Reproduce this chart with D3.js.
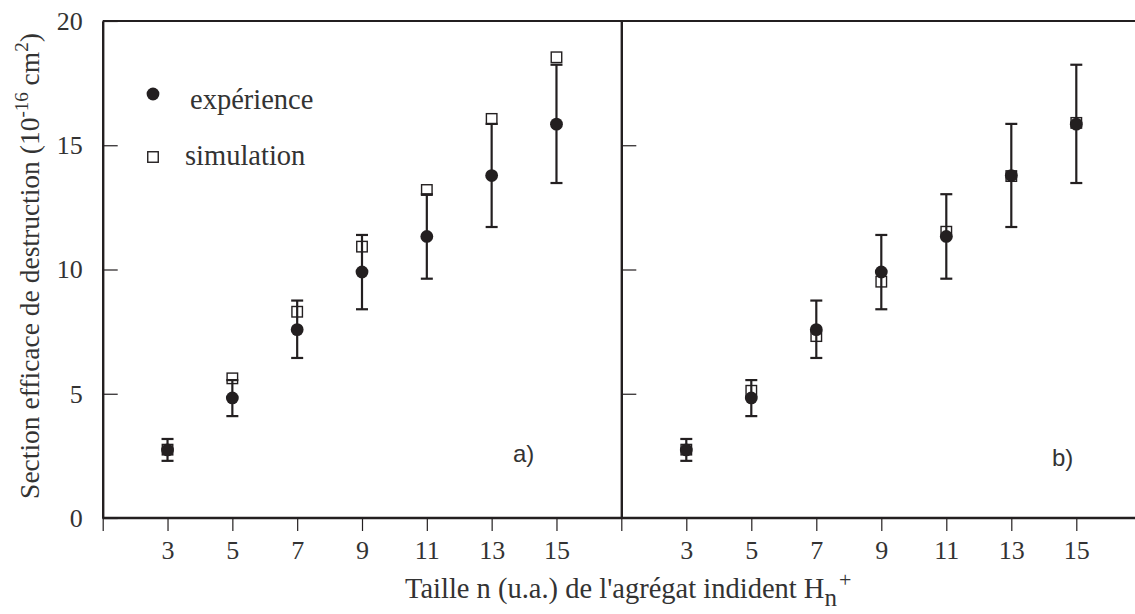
<!DOCTYPE html>
<html><head><meta charset="utf-8">
<script src="https://cdn.jsdelivr.net/npm/d3@7"></script>
<style>body{margin:0;background:#fff}svg{display:block}
.serif{font-family:"Liberation Serif","Times New Roman",Tinos,"DejaVu Serif",serif}
.sans{font-family:"Liberation Sans",Arial,sans-serif}
</style>
</head><body>
<svg id="chart" width="1135" height="614"></svg>
<script>
// ---- data ----
const sizes = [3, 5, 7, 9, 11, 13, 15];
const expValues = [2.74, 4.83, 7.58, 9.90, 11.33, 13.78, 15.85];
const errLow   = [2.30, 4.10, 6.44, 8.40, 9.63, 11.71, 13.48];
const errHigh  = [3.18, 5.55, 8.75, 11.39, 13.03, 15.86, 18.24];
const simA = [2.75, 5.62, 8.30, 10.92, 13.20, 16.06, 18.54];
const simB = [2.75, 5.12, 7.32, 9.51, 11.52, 13.76, 15.90];
const yTicks = [0, 5, 10, 15, 20];
const xTickLabels = [3, 5, 7, 9, 11, 13, 15];
const panelLabels = ["a)", "b)"];
const legendLabels = ["expérience", "simulation"];

// ---- layout ----
const svg = d3.select("#chart");
const ink = "#231f20", textInk = "#333";
const yTop = 21, yBottom = 518;
const y = d3.scaleLinear().domain([0, 20]).range([yBottom, yTop]);
const xA = d3.scaleLinear().domain([1, 17]).range([102.7, 621.3]);
const xB = d3.scaleLinear().domain([1, 17]).range([621.3, 1141.3]);

// frame lines
svg.append("line").attr("x1", 102.7).attr("x2", 1135).attr("y1", yTop).attr("y2", yTop)
  .attr("stroke", ink).attr("stroke-width", 2);
svg.append("line").attr("x1", 102.7).attr("x2", 1135).attr("y1", yBottom).attr("y2", yBottom)
  .attr("stroke", ink).attr("stroke-width", 2.4);

// y axis (left)
const yAxisL = d3.axisLeft(y).tickValues(yTicks).tickSizeInner(-15).tickSizeOuter(0).tickPadding(20);
const gyL = svg.append("g").attr("transform", "translate(102.7,0)").call(yAxisL);
gyL.attr("font-family", null).attr("font-size", null);
gyL.select(".domain").attr("stroke", ink).attr("stroke-width", 2.4);
gyL.selectAll(".tick line").attr("stroke", ink).attr("stroke-width", 1.2);
gyL.selectAll(".tick text").attr("class", "serif").style("font-size", "26px").attr("fill", textInk);

// divider with inward ticks
const yAxisR = d3.axisRight(y).tickValues([5, 10, 15]).tickSizeInner(15).tickSizeOuter(0).tickFormat("");
const gyR = svg.append("g").attr("transform", "translate(621.3,0)").call(yAxisR);
gyR.select(".domain").attr("stroke", ink).attr("stroke-width", 2.4);
gyR.selectAll(".tick line").attr("stroke", ink).attr("stroke-width", 1.2);

// x axes
function xAxis(scale) {
  return d3.axisBottom(scale).tickValues([1].concat(xTickLabels)).tickSizeInner(13).tickSizeOuter(0)
    .tickPadding(10).tickFormat(d => d === 1 ? "" : d);
}
[xA, xB].forEach(sc => {
  const g = svg.append("g").attr("transform", `translate(0,${yBottom})`).call(xAxis(sc));
  g.attr("font-family", null).attr("font-size", null);
  g.select(".domain").remove();
  g.selectAll(".tick line").attr("stroke", ink).attr("stroke-width", 1.2);
  g.selectAll(".tick text").attr("class", "serif").style("font-size", "26px").attr("fill", textInk);
});

// data
const sq = 10.5;
function panel(sc, sim) {
  const g = svg.append("g");
  g.selectAll("rect.sim").data(sizes).join("rect").attr("class", "sim")
    .attr("x", (d) => sc(d) - sq / 2).attr("y", (d, i) => y(sim[i]) - sq / 2)
    .attr("width", sq).attr("height", sq).attr("fill", "#fff").attr("stroke", ink).attr("stroke-width", 1.4);
  g.selectAll("line.err").data(sizes).join("line").attr("class", "err")
    .attr("x1", d => sc(d)).attr("x2", d => sc(d))
    .attr("y1", (d, i) => y(errLow[i])).attr("y2", (d, i) => y(errHigh[i]))
    .attr("stroke", ink).attr("stroke-width", 2.2);
  ["lo", "hi"].forEach(k => {
    const arr = k === "lo" ? errLow : errHigh;
    g.selectAll("line.cap" + k).data(sizes).join("line").attr("class", "cap" + k)
      .attr("x1", d => sc(d) - 6).attr("x2", d => sc(d) + 6)
      .attr("y1", (d, i) => y(arr[i])).attr("y2", (d, i) => y(arr[i]))
      .attr("stroke", ink).attr("stroke-width", 2.2);
  });
  g.selectAll("circle.exp").data(sizes).join("circle").attr("class", "exp")
    .attr("cx", d => sc(d)).attr("cy", (d, i) => y(expValues[i])).attr("r", 6.4).attr("fill", ink);
}
panel(xA, simA);
panel(xB, simB);

// panel labels
svg.append("text").attr("class", "sans").attr("x", 513).attr("y", 462).text(panelLabels[0])
  .style("font-size", "24px").attr("fill", textInk);
svg.append("text").attr("class", "sans").attr("x", 1052).attr("y", 466).text(panelLabels[1])
  .style("font-size", "24px").attr("fill", textInk);

// legend
svg.append("circle").attr("cx", 153).attr("cy", 94).attr("r", 6.4).attr("fill", ink);
svg.append("text").attr("class", "serif").attr("x", 190).attr("y", 109).text(legendLabels[0])
  .style("font-size", "28.5px").attr("fill", textInk);
svg.append("rect").attr("x", 153 - sq / 2).attr("y", 157 - sq / 2).attr("width", sq).attr("height", sq)
  .attr("fill", "#fff").attr("stroke", ink).attr("stroke-width", 1.4);
svg.append("text").attr("class", "serif").attr("x", 185).attr("y", 165).text(legendLabels[1])
  .style("font-size", "28.5px").attr("fill", textInk);

// y title
const yt = svg.append("text").attr("class", "serif").attr("transform", "translate(39,266) rotate(-90)")
  .attr("text-anchor", "middle").style("font-size", "27.5px").attr("fill", textInk);
yt.append("tspan").text("Section efficace de destruction (10");
yt.append("tspan").attr("dy", -11).style("font-size", "19px").text("-16");
yt.append("tspan").attr("dy", 11).text(" cm");
yt.append("tspan").attr("dy", -11).style("font-size", "19px").text("2");
yt.append("tspan").attr("dy", 11).text(")");

// x title
const xt = svg.append("text").attr("class", "serif").attr("x", 405).attr("y", 598)
  .style("font-size", "28.5px").attr("fill", textInk);
xt.append("tspan").text("Taille n (u.a.) de l'agrégat indident H");
xt.append("tspan").attr("dy", 8).style("font-size", "25px").text("n");
xt.append("tspan").attr("dy", -19).attr("dx", 2).style("font-size", "22px").text("+");
</script>
</body></html>
